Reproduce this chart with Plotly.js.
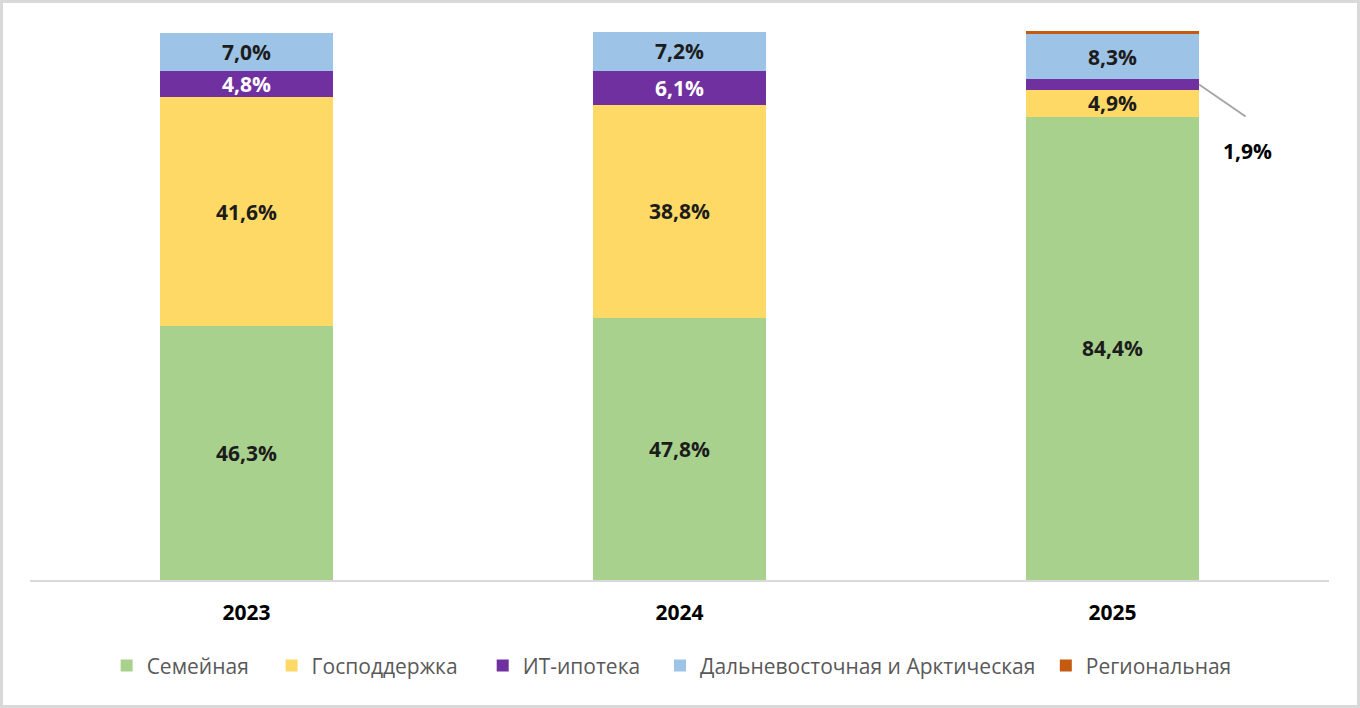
<!DOCTYPE html>
<html>
<head>
<meta charset="utf-8">
<script src="https://cdn.plot.ly/plotly-3.0.1.min.js"></script>
<style>
  html, body { margin: 0; padding: 0; background: #fff; }
  #wrap { position: relative; width: 1360px; height: 708px; }
  #chart { width: 1360px; height: 708px; }
  #frame { position: absolute; left: 0; top: 0; width: 1360px; height: 708px; box-sizing: border-box; border: 3px solid #d9d9d9; pointer-events: none; }
</style>
</head>
<body>
<div id="wrap"><div id="chart"></div><div id="frame"></div></div>
<script>
const years = ['2023', '2024', '2025'];
const family = [46.3, 47.8, 84.4];
const stateSupport = [41.6, 38.8, 4.9];
const itMortgage = [4.8, 6.1, 1.9];
const farEastArctic = [7.0, 7.2, 8.3];
const regional = [0, 0, 0.5];

const seriesNames = ['Семейная', 'Господдержка', 'ИТ-ипотека', 'Дальневосточная и Арктическая', 'Региональная'];
const colors = ['#a9d18e', '#ffd966', '#7030a0', '#9dc3e6', '#c55a11'];
const legendX = [0.0590, 0.1860, 0.3485, 0.4850, 0.7820];

const labelFont = "'Open Sans', sans-serif";
const tpl = '%{y:.1f}%';

function bar(i, vals, textTemplates, textColor) {
  return {
    type: 'bar', x: years, y: vals, name: seriesNames[i],
    legend: i === 0 ? 'legend' : 'legend' + (i + 1),
    marker: { color: colors[i] },
    width: 0.4,
    texttemplate: textTemplates,
    textposition: 'inside', insidetextanchor: 'middle', textangle: 0,
    constraintext: 'none',
    insidetextfont: { family: labelFont, size: 21, color: textColor, weight: 700 },
    hoverinfo: 'skip'
  };
}

const data = [
  bar(0, family, tpl, '#1c1c1c'),
  bar(1, stateSupport, tpl, '#1c1c1c'),
  bar(2, itMortgage, [tpl, tpl, ''], '#ffffff'),
  bar(3, farEastArctic, tpl, '#1c1c1c'),
  bar(4, regional, '', '#1c1c1c')
];

const itLabelY = family[2] + stateSupport[2] + itMortgage[2] / 2;
const itLabelText = itMortgage[2].toFixed(1).replace('.', ',') + '%';

function legendBox(i) {
  return {
    orientation: 'h', x: legendX[i], xanchor: 'left', y: -0.1566, yanchor: 'middle',
    bgcolor: 'rgba(0,0,0,0)',
    font: { family: "'Open Sans', sans-serif", size: 21, color: '#595959' }
  };
}

const layout = {
  width: 1360, height: 708,
  barmode: 'stack',
  separators: ', ',
  uniformtext: { mode: 'show', minsize: 21 },
  paper_bgcolor: '#ffffff', plot_bgcolor: '#ffffff',
  margin: { l: 30, r: 31, t: 31, b: 128 },
  showlegend: true,
  legend: legendBox(0),
  legend2: legendBox(1),
  legend3: legendBox(2),
  legend4: legendBox(3),
  legend5: legendBox(4),
  xaxis: {
    type: 'category',
    showline: true, linecolor: '#d9d9d9', linewidth: 2,
    showgrid: false, zeroline: false, ticks: '',
    ticklabelstandoff: 13,
    tickfont: { family: labelFont, size: 21, color: '#000000', weight: 700 }
  },
  yaxis: {
    range: [0, 100], visible: false, showgrid: false, zeroline: false, fixedrange: true
  },
  annotations: [
    {
      x: 2.2, y: itLabelY, xref: 'x', yref: 'y',
      text: '', showarrow: true, arrowhead: 0, arrowwidth: 2, arrowcolor: '#a6a6a6',
      ax: 48, ay: 33
    },
    {
      x: 2.2, y: itLabelY, xref: 'x', yref: 'y',
      text: itLabelText, showarrow: false,
      xshift: 48, yshift: -66,
      font: { family: labelFont, size: 21, color: '#000000', weight: 700 }
    }
  ]
};

Plotly.newPlot('chart', data, layout, { displayModeBar: false, staticPlot: true });
</script>
</body>
</html>
